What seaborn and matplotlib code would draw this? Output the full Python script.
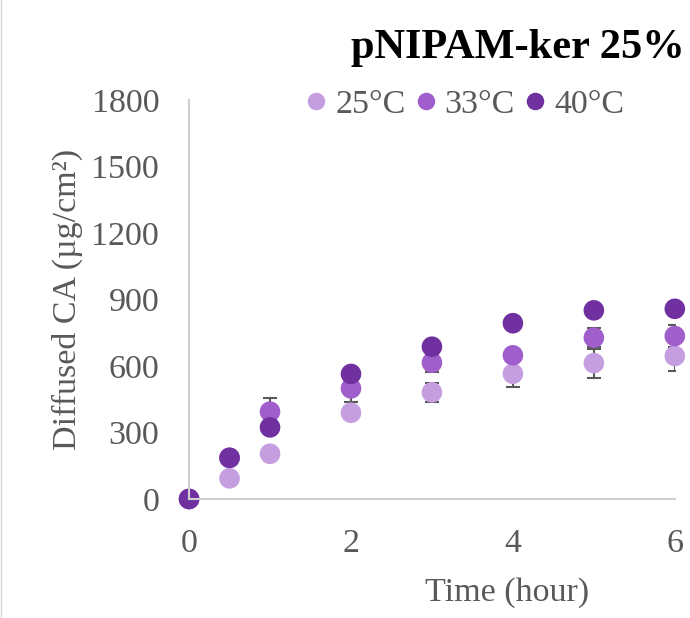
import pandas as pd
import matplotlib.pyplot as plt
import seaborn as sns

# Data
time_h = [0, 0.5, 1, 2, 3, 4, 5, 6]
temps = ['25°C', '33°C', '40°C']
ca_25 = [0, 93, 204, 389, 481, 565, 613, 645]
ca_33 = [0, 185, 394, 499, 615, 648, 728, 735]
ca_40 = [0, 186, 323, 564, 687, 793, 851, 858]
err_25 = [0, 10, 15, 25, 42, 61, 65, 66]
err_33 = [0, 10, 60, 62, 40, 20, 42, 50]
err_40 = [0, 10, 20, 25, 25, 25, 25, 25]

colors = ['#C59EE0', '#A05ECC', '#7030A0']
text_grey = '#595959'

rows = []
for temp, vals, errs in zip(temps, [ca_25, ca_33, ca_40], [err_25, err_33, err_40]):
    for t, v, e in zip(time_h, vals, errs):
        rows.append({'Time': t, 'CA': v, 'err': e, 'Temp': temp})
df = pd.DataFrame(rows)

sns.set_style('white')
plt.rcParams['font.family'] = ['Liberation Serif', 'DejaVu Serif']

fig = plt.figure(figsize=(6.9, 6.18), dpi=100)
ax = fig.add_axes([0.274, 0.1926, 0.704, 0.6456])

# error bars behind the markers
for temp in temps:
    sub = df[df['Temp'] == temp]
    ax.errorbar(sub['Time'], sub['CA'], yerr=sub['err'], fmt='none',
                ecolor='#595959', elinewidth=1.5, capsize=5, capthick=1.5, zorder=1)

sns.scatterplot(data=df, x='Time', y='CA', hue='Temp', hue_order=temps,
                palette=colors, s=220, linewidth=0, ax=ax, zorder=2, clip_on=False)

ax.set_xlim(0, 6)
ax.set_ylim(0, 1800)
ax.set_xticks([0, 2, 4, 6])
ax.set_yticks(range(0, 1801, 300))
ax.tick_params(axis='both', length=0, labelsize=24.5, labelcolor=text_grey)
ax.tick_params(axis='x', pad=21)
ax.tick_params(axis='y', pad=21.5)

for side in ['top', 'right']:
    ax.spines[side].set_visible(False)
for side in ['left', 'bottom']:
    ax.spines[side].set_color('#d0d0d0')
    ax.spines[side].set_linewidth(1.5)

ax.set_xlabel('Time (hour)', fontsize=24.5, color=text_grey)
ax.xaxis.set_label_coords(0.654, -0.195)
ax.set_ylabel('Diffused CA (µg/cm²)', fontsize=24.5, color=text_grey)
ax.yaxis.set_label_coords(-0.218, 0.499)

fig.text(0.993, 0.922, 'pNIPAM-ker 25%', ha='right', va='center',
         fontsize=30.5, fontweight='bold', color='black')

leg = ax.legend(loc='center', bbox_to_anchor=(0.57, 0.988), ncol=3, frameon=False,
                fontsize=24.5, handlelength=0.5, handletextpad=0.31, columnspacing=0.34,
                markerscale=0.85, borderaxespad=0, borderpad=0)
for txt in leg.get_texts():
    txt.set_color(text_grey)

fig.add_artist(plt.Line2D([0.002, 0.002], [0, 1], color='#d9d9d9', lw=1))

fig.savefig('out.png', dpi=100)
